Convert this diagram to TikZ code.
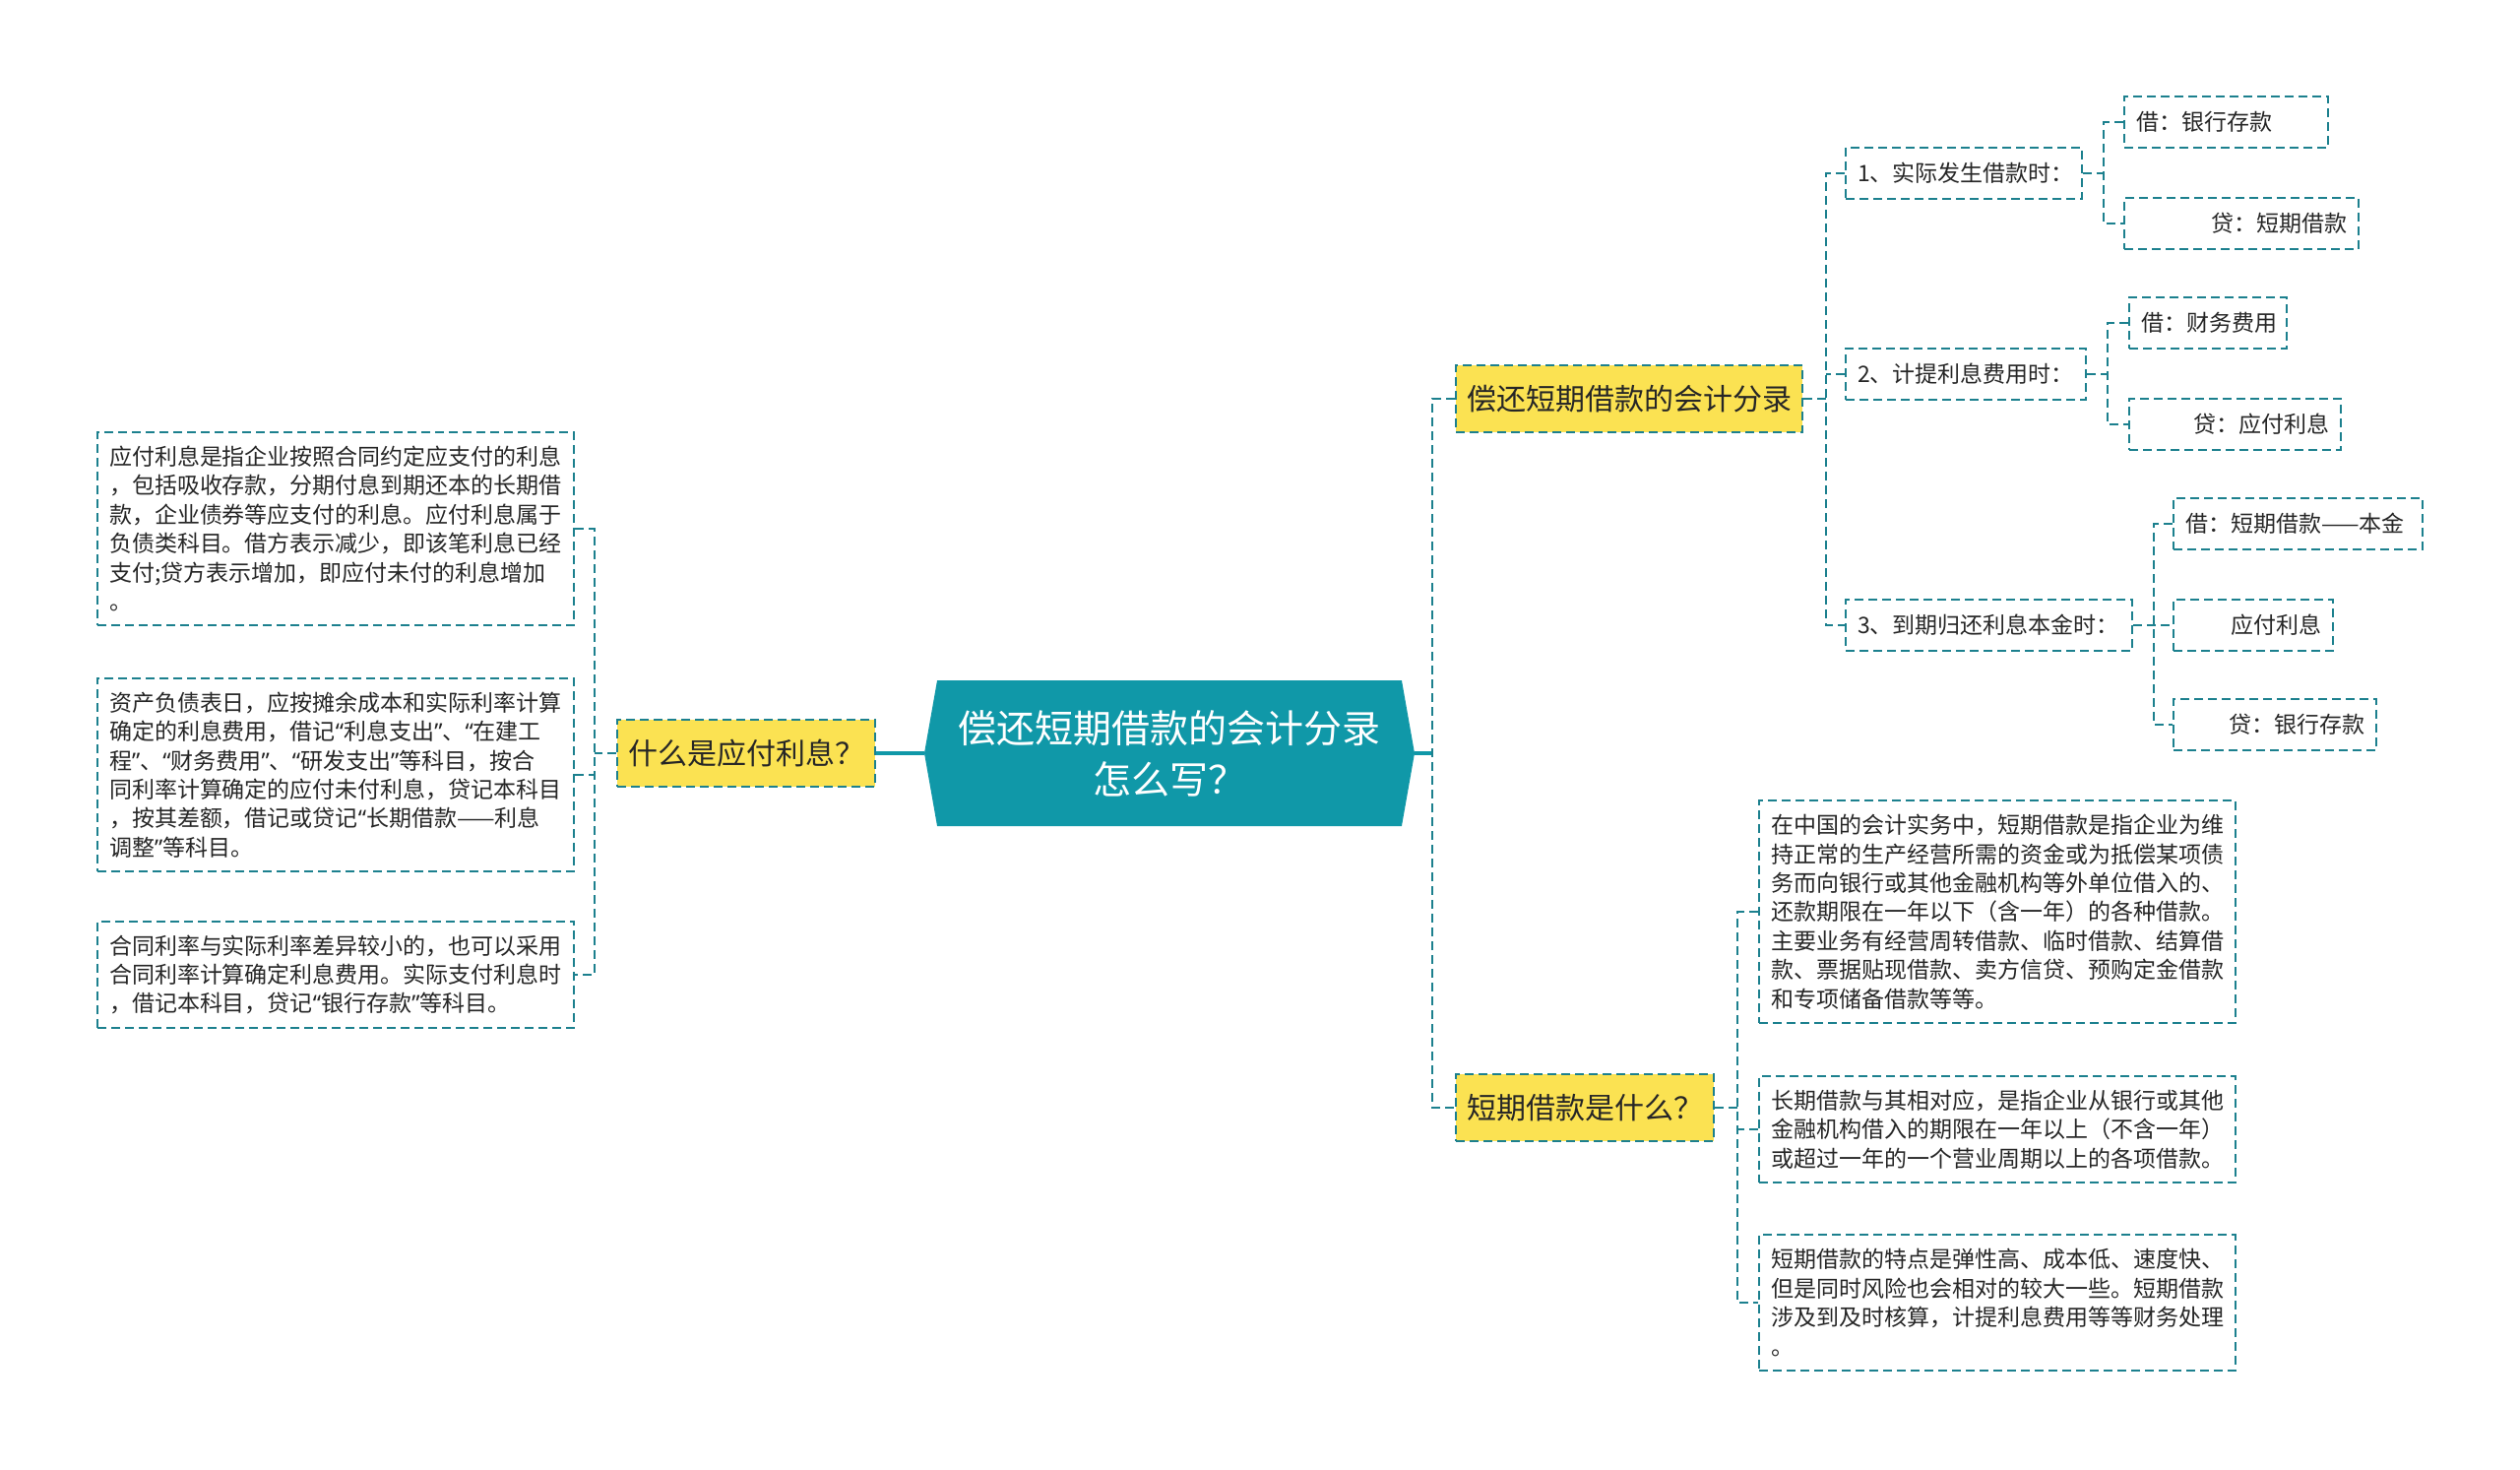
\documentclass[tikz,border=0pt]{standalone}
\usepackage{fontspec}
\setmainfont{Noto Sans CJK SC}
\newfontfamily\quotefont{Noto Sans}
\usetikzlibrary{shapes.symbols}
\definecolor{linkc}{RGB}{28,128,142}
\definecolor{rootc}{RGB}{16,152,168}
\definecolor{topicc}{RGB}{251,226,82}
\newcommand{\sm}{\fontsize{11.5pt}{14.7pt}\selectfont}
\newcommand{\tp}{\fontsize{15pt}{18pt}\selectfont}
\newcommand{\qo}{{\quotefont “}}
\newcommand{\qc}{{\quotefont ”}}

\begin{document}
\begin{tikzpicture}[x=0.5pt,y=-0.5pt,
  link/.style={draw=linkc,line width=1pt,dash pattern=on 4.5pt off 2.5pt},
  main/.style={draw=rootc,line width=1.6pt},
  box/.style={link,inner xsep=6pt,inner ysep=7pt,font=\sm,text=black!85},
  topic/.style={box,fill=topicc,font=\tp,minimum height=34pt,inner xsep=5.5pt},
  note/.style={box,text width=230pt,align=left,anchor=west},
  leaf/.style={box,minimum height=26pt,anchor=west}]
   \useasboundingbox (0,0) rectangle (2560,1493);
   % centre
   \node[shape=signal,signal to=east and west,signal pointer angle=160,
     fill=rootc,text=white,minimum width=249pt,minimum height=74pt,
     align=center,font=\fontsize{19.5pt}{26pt}\selectfont] (root) at (1188,765)
     {偿还短期借款的会计分录\\怎么写？};
   % left branch
   \node[topic] (q1) at (758,765) {什么是应付利息？};
   \node[note] (l1) at (98,537) {应付利息是指企业按照合同约定应支付的利息\\，包括吸收存款，分期付息到期还本的长期借\\款，企业债券等应支付的利息。应付利息属于\\负债类科目。借方表示减少，即该笔利息已经\\支付;贷方表示增加，即应付未付的利息增加\\。};
   \node[note] (l2) at (98,787) {资产负债表日，应按摊余成本和实际利率计算\\确定的利息费用，借记\qo 利息支出\qc 、\qo 在建工\\程\qc 、\qo 财务费用\qc 、\qo 研发支出\qc 等科目，按合\\同利率计算确定的应付未付利息，贷记本科目\\，按其差额，借记或贷记\qo 长期借款——利息\\调整\qc 等科目。};
   \node[note] (l3) at (98,990) {合同利率与实际利率差异较小的，也可以采用\\合同利率计算确定利息费用。实际支付利息时\\，借记本科目，贷记\qo 银行存款\qc 等科目。};
   % right branch, top
   \node[topic,anchor=west] (a) at (1478,405) {偿还短期借款的会计分录};
   \node[leaf,text width=108pt,align=left] (s1) at (1874,176) {1、实际发生借款时：};
   \node[leaf,text width=110pt,align=left] (s2) at (1874,380) {2、计提利息费用时：};
   \node[leaf,text width=133.5pt,align=left] (s3) at (1874,635) {3、到期归还利息本金时：};
   \node[leaf,text width=91.5pt,align=left] (t11) at (2157,124) {借：银行存款};
   \node[leaf,text width=107pt,align=right] (t12) at (2157,227) {贷：短期借款};
   \node[leaf,text width=68pt,align=left] (t21) at (2162,328) {借：财务费用};
   \node[leaf,text width=95.5pt,align=right] (t22) at (2162,431) {贷：应付利息};
   \node[leaf,text width=114.5pt,align=left] (t31) at (2207,532) {借：短期借款——本金};
   \node[leaf,text width=69pt,align=right] (t32) at (2207,635) {应付利息};
   \node[leaf,text width=91pt,align=right] (t33) at (2207,736) {贷：银行存款};
   % right branch, bottom
   \node[topic,anchor=west] (b) at (1478,1125) {短期借款是什么？};
   \node[note] (r1) at (1786,926) {在中国的会计实务中，短期借款是指企业为维\\持正常的生产经营所需的资金或为抵偿某项债\\务而向银行或其他金融机构等外单位借入的、\\还款期限在一年以下（含一年）的各种借款。\\主要业务有经营周转借款、临时借款、结算借\\款、票据贴现借款、卖方信贷、预购定金借款\\和专项储备借款等等。};
   \node[note] (r2) at (1786,1147) {长期借款与其相对应，是指企业从银行或其他\\金融机构借入的期限在一年以上（不含一年）\\或超过一年的一个营业周期以上的各项借款。};
   \node[note] (r3) at (1786,1323) {短期借款的特点是弹性高、成本低、速度快、\\但是同时风险也会相对的较大一些。短期借款\\涉及到及时核算，计提利息费用等等财务处理\\。};
   % connectors
   \coordinate (lb) at (604,765);
   \draw[main] (root.west) -- (q1.east);
   \draw[link] (q1.west) -- (lb);
   \draw[link] (l1.east) -| (lb) |- (l3.east);
   \draw[link] (l2.east) -- (l2.east -| lb);
   \coordinate (rb) at (1455,765);
   \draw[main] (root.east) -- (rb);
   \draw[link] (a.west) -| (rb) |- (b.west);
   \coordinate (ab) at (1855,405);
   \draw[link] (a.east) -- (ab);
   \draw[link] (s1.west) -| (ab) |- (s3.west);
   \draw[link] (s2.west) -- (s2.west -| ab);
   \foreach \p/\u/\d in {s1/t11/t12,s2/t21/t22,s3/t31/t33} {
     \draw[link] (\p.east) -- ++(21,0) coordinate (k);
     \draw[link] (\u.west) -| (k) |- (\d.west);
   }
   \draw[link] (s3.east) -- (t32.west);
   \coordinate (bb) at (1765,1125);
   \draw[link] (b.east) -- (bb);
   \draw[link] (r1.west) -| (bb) |- (r3.west);
   \draw[link] (r2.west) -- (r2.west -| bb);
\end{tikzpicture}
\end{document}
